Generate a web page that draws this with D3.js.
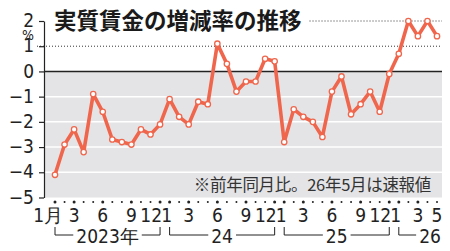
<!DOCTYPE html>
<html>
<head>
<meta charset="utf-8">
<script src="https://cdn.jsdelivr.net/npm/d3@7"></script>
<style>
  html, body { margin: 0; padding: 0; background: #fff; }
  svg { display: block; }
  text { font-family: "Noto Sans CJK JP", sans-serif; fill: #222; }
  .num { font-family: "Liberation Sans Narrow", "DejaVu Sans Condensed", sans-serif; }
</style>
</head>
<body>
<svg id="chart"></svg>
<script>
// 2023年1月〜2026年5月, 前年同月比 (%)
const months = [
  1, 2, 3, 4, 5, 6, 7, 8, 9, 10, 11, 12,
  1, 2, 3, 4, 5, 6, 7, 8, 9, 10, 11, 12,
  1, 2, 3, 4, 5, 6, 7, 8, 9, 10, 11, 12,
  1, 2, 3, 4, 5
];
const values = [
  -4.1, -2.9, -2.3, -3.2, -0.9, -1.6, -2.7, -2.8, -2.9, -2.3, -2.5, -2.1,
  -1.1, -1.8, -2.1, -1.2, -1.3, 1.1, 0.3, -0.8, -0.4, -0.4, 0.5, 0.4,
  -2.8, -1.5, -1.8, -2.0, -2.6, -0.8, -0.2, -1.7, -1.3, -0.8, -1.6, -0.1,
  0.7, 2.0, 1.4, 2.0, 1.4
];
const labeledMonths = [1, 3, 6, 9, 12];
const yTicks = [2, 1, 0, -1, -2, -3, -4, -5];
const years = [
  { label: "2023年", from: 0, to: 11 },
  { label: "24", from: 12, to: 23 },
  { label: "25", from: 24, to: 35 },
  { label: "26", from: 36, to: 40 }
];
const title = "実質賃金の増減率の推移";
const note = "※前年同月比。26年5月は速報値";

const width = 450;
const height = 251;
const plotLeft = 44;
const plotRight = 442;

const svg = d3.select("#chart").attr("width", width).attr("height", height);

const x = d3.scaleLinear().domain([0, values.length - 1]).range([55, 437]);
const y = d3.scaleLinear().domain([-5, 2]).range([197.5, 21]);

// grey band below zero
svg.append("rect")
  .attr("x", plotLeft)
  .attr("y", y(0))
  .attr("width", plotRight - plotLeft)
  .attr("height", y(-5) - y(0))
  .attr("fill", "#e4e4e6");

// white grid lines inside the band
svg.append("g")
  .selectAll("line")
  .data(yTicks.filter((d) => d < 0 && d > -5))
  .join("line")
  .attr("x1", plotLeft)
  .attr("x2", plotRight)
  .attr("y1", (d) => y(d))
  .attr("y2", (d) => y(d))
  .attr("stroke", "#fff")
  .attr("stroke-width", 1.5);

// title
const titleText = svg.append("text")
  .attr("x", 54)
  .attr("y", 29)
  .attr("font-size", 22.5)
  .attr("font-weight", 700)
  .style("fill", "#1a1a1a")
  .text(title);
const titleEnd = titleText.node().getBBox();

// dotted lines at 1 and 2
svg.append("line")
  .attr("x1", 37).attr("x2", plotRight)
  .attr("y1", y(1)).attr("y2", y(1))
  .attr("stroke", "#333").attr("stroke-width", 1)
  .attr("stroke-dasharray", "1,2");
svg.append("line")
  .attr("x1", titleEnd.x + titleEnd.width + 8).attr("x2", plotRight)
  .attr("y1", y(2)).attr("y2", y(2))
  .attr("stroke", "#333").attr("stroke-width", 1)
  .attr("stroke-dasharray", "1,2");

// zero line
svg.append("line")
  .attr("x1", plotLeft).attr("x2", plotRight)
  .attr("y1", y(0)).attr("y2", y(0))
  .attr("stroke", "#222").attr("stroke-width", 1.5);

// y axis
const yAxis = d3.axisLeft(y)
  .tickValues(yTicks)
  .tickSize(5)
  .tickSizeOuter(0)
  .tickPadding(5)
  .tickFormat((d) => (d < 0 ? "−" + Math.abs(d) : String(d)));

const yg = svg.append("g")
  .attr("transform", `translate(${plotLeft},0)`)
  .call(yAxis);
yg.select(".domain").attr("stroke", "#222").attr("stroke-width", 1.2);
yg.selectAll(".tick line").attr("stroke", "#222").attr("stroke-width", 1.2);
yg.selectAll(".tick text")
  .attr("class", "num")
  .attr("font-size", 19)
  .style("fill", "#222")
  .attr("dy", "0.3em");

svg.append("text")
  .attr("class", "num")
  .attr("x", 28)
  .attr("y", 39.5)
  .attr("text-anchor", "middle")
  .attr("font-size", 14)
  .text("%");

// note
svg.append("text")
  .attr("x", 431)
  .attr("y", 191)
  .attr("text-anchor", "end")
  .attr("font-size", 16.5)
  .attr("letter-spacing", -0.3)
  .style("fill", "#333")
  .text(note);

// line and markers
const line = d3.line()
  .x((d, i) => x(i))
  .y((d) => y(d));

svg.append("path")
  .datum(values)
  .attr("d", line)
  .attr("fill", "none")
  .attr("stroke", "#ef664c")
  .attr("stroke-width", 3.6)
  .attr("stroke-linejoin", "round");

svg.append("g")
  .selectAll("circle")
  .data(values)
  .join("circle")
  .attr("cx", (d, i) => x(i))
  .attr("cy", (d) => y(d))
  .attr("r", 2.7)
  .attr("fill", "#fff")
  .attr("stroke", "#ef664c")
  .attr("stroke-width", 1.3);

// x axis dots
svg.append("g")
  .selectAll("circle")
  .data(months)
  .join("circle")
  .attr("cx", (d, i) => x(i))
  .attr("cy", 202)
  .attr("r", (d) => (labeledMonths.includes(d) ? 1.5 : 1))
  .attr("fill", "#222");

// month labels
const monthLabels = months
  .map((m, i) => ({ m, i }))
  .filter((d) => labeledMonths.includes(d.m) || d.i === months.length - 1);

svg.append("g")
  .selectAll("text")
  .data(monthLabels)
  .join("text")
  .attr("class", "num")
  .attr("x", (d) => {
    if (d.i === 0) return x(d.i) + 8;
    if (d.m === 12) return x(d.i) + 2;
    if (d.m === 1) return x(d.i) - 3;
    return x(d.i);
  })
  .attr("y", 222)
  .attr("text-anchor", (d) => (d.i === 0 || d.m === 12 ? "end" : "middle"))
  .attr("font-size", 19)
  .style("fill", "#222")
  .text((d) => (d.i === 0 ? "1月" : String(d.m)));

// year brackets
const yearG = svg.append("g");
years.forEach((yr) => {
  const x0 = x(yr.from);
  const x1 = x(yr.to);
  const last = yr.to === values.length - 1;
  const cx = last ? x1 - 7 : (x0 + x1) / 2;
  const t = yearG.append("text")
    .attr("class", "num")
    .attr("x", cx)
    .attr("y", 243)
    .attr("text-anchor", "middle")
    .attr("font-size", 19)
    .style("fill", "#222")
    .text(yr.label);
  const bb = t.node().getBBox();
  const ly = 235;
  yearG.append("path")
    .attr("d", `M${x0},227V${ly}H${bb.x - 3}`)
    .attr("fill", "none").attr("stroke", "#222").attr("stroke-width", 1);
  if (!last) {
    yearG.append("path")
      .attr("d", `M${bb.x + bb.width + 3},${ly}H${x1}V227`)
      .attr("fill", "none").attr("stroke", "#222").attr("stroke-width", 1);
  }
});
</script>
</body>
</html>
